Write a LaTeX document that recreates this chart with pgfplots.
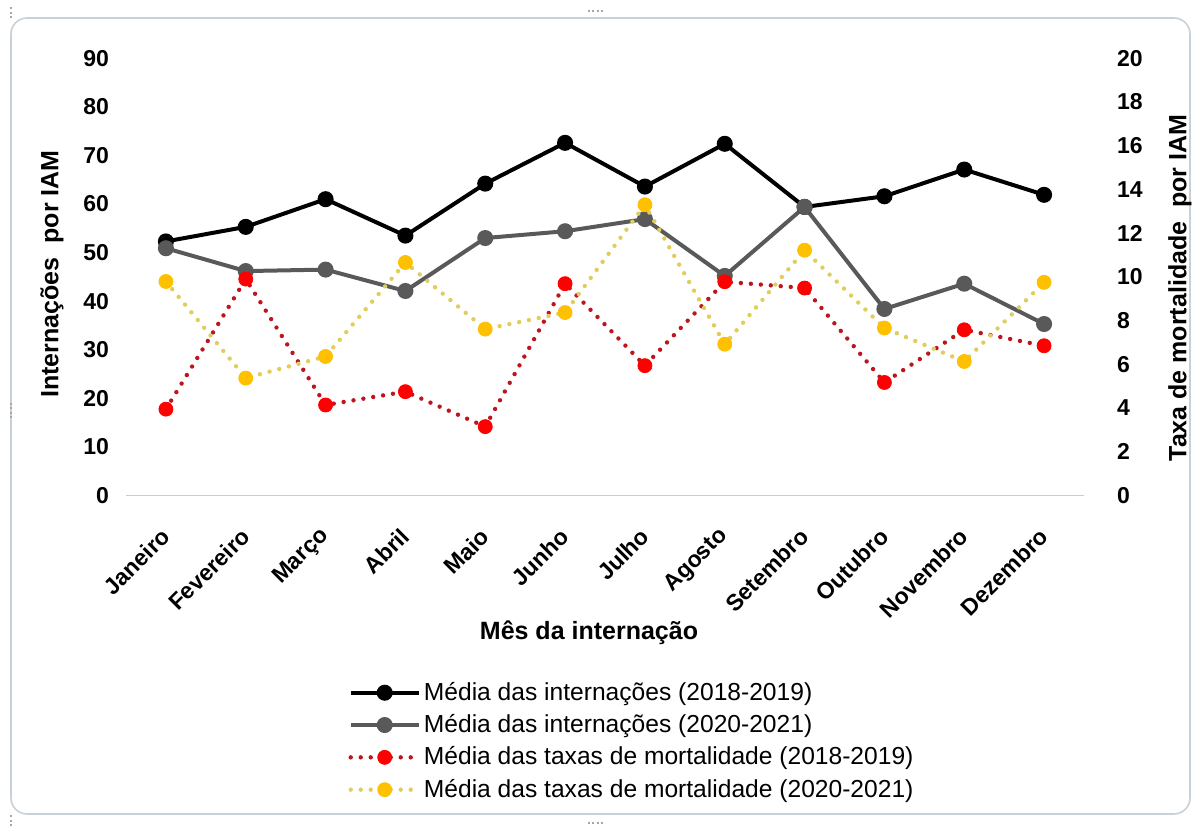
\documentclass[border=0pt]{standalone}
\usepackage{fontspec}
\setmainfont{Liberation Sans}
\usepackage{pgfplots}
\pgfplotsset{compat=1.18}
\definecolor{gr}{RGB}{89,89,89}
\definecolor{rd}{RGB}{255,0,0}
\definecolor{rdline}{RGB}{190,20,30}
\definecolor{yl}{RGB}{255,192,0}
\definecolor{ylline}{RGB}{225,205,90}
\definecolor{framec}{RGB}{200,208,216}

\pgfplotstableread{
x black gray red yellow
0 52.3 50.9 3.95 9.79
1 55.3 46.2 9.90 5.37
2 61.0 46.5 4.14 6.36
3 53.5 42.1 4.75 10.66
4 64.2 53.0 3.15 7.61
5 72.6 54.4 9.69 8.37
6 63.6 56.9 5.94 13.30
7 72.4 45.2 9.78 6.92
8 59.4 59.4 9.49 11.22
9 61.6 38.4 5.17 7.66
10 67.1 43.6 7.58 6.13
11 61.9 35.3 6.85 9.75
}\datatab

\pgfplotsset{
 common/.style={
  at={(63pt,166.25pt)}, anchor=south west,
  width=479pt, height=218.6pt, scale only axis,
  xmin=-0.5, xmax=11.5, ymin=0,
  xtick={0,...,11}, major tick length=0pt,
  /pgf/number format/assume math mode=true,
  tick label style={font=\bfseries\fontsize{11.5}{13}\selectfont},
  label style={font=\bfseries\fontsize{12.5}{14}\selectfont},
 },
 blackst/.style={black, line width=2pt, mark=*, mark size=3pt},
 grayst/.style={gr, line width=2pt, mark=*, mark size=3pt, mark options={fill=gr, draw=gr}},
 redst/.style={rdline, line width=2.2pt, dash pattern=on 0pt off 5pt, line cap=round, mark=*, mark size=3.5pt, mark options={solid, fill=rd, draw=rd, line width=0.4pt}},
 yelst/.style={ylline, line width=2.2pt, dash pattern=on 0pt off 5pt, line cap=round, mark=*, mark size=3.5pt, mark options={solid, fill=yl, draw=yl, line width=0.4pt}},
}

\begin{document}
\begin{tikzpicture}
\useasboundingbox (0,0) rectangle (597.5pt,414pt);
\draw[framec, line width=0.8pt, rounded corners=8pt] (5.5pt,7pt) rectangle (595pt,405pt);
% selection handles of the chart frame
\draw[gray!70, line width=1.2pt, dash pattern=on 1pt off 1.2pt] (294pt,408.5pt) -- (302pt,408.5pt);
\draw[gray!70, line width=1.2pt, dash pattern=on 1pt off 1.2pt] (294pt,2.5pt) -- (302pt,2.5pt);
\draw[gray!70, line width=1.2pt, dash pattern=on 1pt off 1.2pt] (5.5pt,205pt) -- (5.5pt,213pt);
\draw[gray!70, line width=1.2pt, dash pattern=on 1pt off 1.2pt] (5.5pt,405pt) -- (5.5pt,411pt);
\draw[gray!70, line width=1.2pt, dash pattern=on 1pt off 1.2pt] (5.5pt,1pt) -- (5.5pt,7pt);

\begin{axis}[common, ymax=90, ytick={0,10,...,90},
 axis x line*=bottom, axis y line*=left, y axis line style={draw=none},
 x axis line style={draw=gray!40, line width=0.8pt, -},
 xticklabels={Janeiro,Fevereiro,Março,Abril,Maio,Junho,Julho,Agosto,Setembro,Outubro,Novembro,Dezembro},
 xticklabel style={yshift=-18.5pt, rotate=45, anchor=east, inner sep=0pt},
 yticklabel style={xshift=-5pt},
 ylabel={Internações\ \ por IAM},
 ylabel style={at={(axis description cs:-0.0772,0.5066)}, anchor=center},
 xlabel={Mês da internação},
 xlabel style={at={(axis description cs:0.4833,-0.3145)}, anchor=center},
]
\addplot[blackst] table[x=x, y=black] {\datatab};
\addplot[grayst] table[x=x, y=gray] {\datatab};
\end{axis}

\begin{axis}[common, ymax=20, ytick={0,2,...,20},
 axis x line=none, axis y line*=right, y axis line style={draw=none},
 yticklabel style={xshift=13pt},
 ylabel={Taxa de mortalidade\ \ por IAM},
 ylabel style={at={(axis description cs:1.1002,0.4746)}, anchor=center},
 legend style={draw=none, fill=none, at={(axis description cs:0.5287,-0.5620)}, anchor=center,
   font=\fontsize{12.3}{15}\selectfont, row sep=2.6pt, inner sep=0pt, nodes={inner sep=1.5pt}},
 legend cell align=left,
 legend image code/.code={\draw[mark repeat=2,mark phase=2,#1] plot coordinates {(0pt,0pt) (17pt,0pt) (34pt,0pt)};},
]
\addlegendimage{blackst}
\addlegendentry{Média das internações (2018-2019)}
\addlegendimage{grayst}
\addlegendentry{Média das internações (2020-2021)}
\addplot[redst] table[x=x, y=red] {\datatab};
\addlegendentry{Média das taxas de mortalidade (2018-2019)}
\addplot[yelst] table[x=x, y=yellow] {\datatab};
\addlegendentry{Média das taxas de mortalidade (2020-2021)}
\end{axis}
\end{tikzpicture}
\end{document}
